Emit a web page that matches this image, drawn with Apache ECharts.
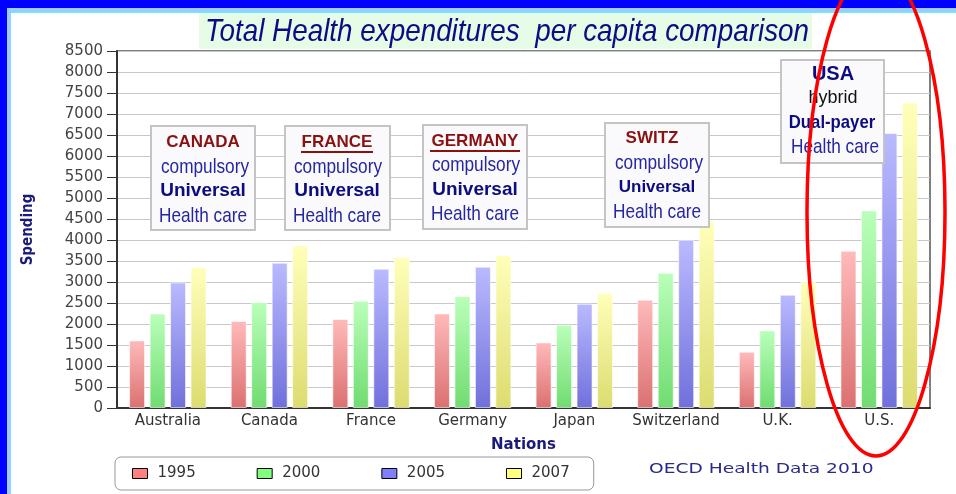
<!DOCTYPE html>
<html><head><meta charset="utf-8">
<script src="https://cdn.jsdelivr.net/npm/echarts@6/dist/echarts.min.js"></script>
<style>html,body{margin:0;padding:0;background:#fff}#c{width:956px;height:494px}</style>
</head><body><div id="c"></div>
<script>
const categories = ['Australia','Canada','France','Germany','Japan','Switzerland','U.K.','U.S.'];
const years = ['1995','2000','2005','2007'];
const v1995 = [1610,2071,2119,2252,1562,2579,1340,3745];
const v2000 = [2252,2524,2555,2667,1983,3221,1848,4705];
const v2005 = [2990,3460,3317,3364,2483,4007,2698,6548];
const v2007 = [3357,3871,3602,3633,2738,4450,3000,7276];
const seriesValues = [v1995, v2000, v2005, v2007];

const legendColors = ['#ff8080','#80ff80','#8080ff','#ffff80'];
const gradTop = ['#ffbaba','#baffba','#babaff','#ffffba'];
const gradBot = ['#dc7070','#70dc70','#7070dc','#dcdc70'];

const AR = "'Liberation Sans', Arial, sans-serif";
const DV = "'DejaVu Sans', Verdana, sans-serif";
const DVC = "'DejaVu Sans Condensed', 'DejaVu Sans', sans-serif";

function txt(text, x, y, size, fill, weight, sx) {
  return { type: 'text', x: x, y: y, z: 60, scaleX: sx || 1,
    style: { text: text, fill: fill, textAlign: 'center', textVerticalAlign: 'middle',
      font: (weight || 'normal') + ' ' + size + 'px ' + AR } };
}
function box(x, y, w, h) {
  return { type: 'rect', z: 55, shape: { x: x, y: y, width: w, height: h },
    style: { fill: '#fafafc', stroke: '#c4c4c4', lineWidth: 2 } };
}
function uline(x1, x2, y) {
  return { type: 'line', z: 60, shape: { x1: x1, y1: y, x2: x2, y2: y },
    style: { stroke: '#8b1010', lineWidth: 2 } };
}
const RED = '#8b1010', BLU = '#2626a0', NAVY = '#0c0c80';
const NS = 0.82;

const graphics = [
  // frame
  { type: 'rect', z: 1, shape: { x: 0, y: 0, width: 956, height: 8 }, style: { fill: '#0000ff' } },
  { type: 'rect', z: 1, shape: { x: 0, y: 0, width: 7, height: 494 }, style: { fill: '#0000ff' } },
  { type: 'rect', z: 1, shape: { x: 7, y: 8, width: 949, height: 4 }, style: { fill: '#99ccff' } },
  { type: 'rect', z: 1, shape: { x: 7, y: 8, width: 4, height: 486 }, style: { fill: '#99ccff' } },
  { type: 'rect', z: 1, shape: { x: 11, y: 12, width: 945, height: 1 }, style: { fill: '#66eeff' } },
  // title
  { type: 'rect', z: 2, shape: { x: 199, y: 13, width: 613, height: 36 }, style: { fill: '#e6fce6' } },
  { type: 'text', z: 3, x: 205, y: 32, scaleX: 0.87, style: { text: 'Total Health expenditures  per capita comparison',
      fill: '#0c0c84', textAlign: 'left', textVerticalAlign: 'middle', font: 'italic 32px ' + AR } },
  // CANADA
  box(151, 126, 104, 104),
  txt('CANADA', 203, 142, 17, RED, 'bold'),
  txt('compulsory', 205, 167, 21, BLU, 'normal', NS),
  txt('Universal', 203, 191, 19, NAVY, 'bold'),
  txt('Health care', 203, 216, 21, BLU, 'normal', NS),
  // FRANCE
  box(285, 126, 105, 104),
  txt('FRANCE', 337, 142, 17, RED, 'bold'),
  uline(301, 373, 152),
  txt('compulsory', 338, 167, 21, BLU, 'normal', NS),
  txt('Universal', 337, 191, 19, NAVY, 'bold'),
  txt('Health care', 337, 216, 21, BLU, 'normal', NS),
  // GERMANY
  box(423, 125, 104, 104),
  txt('GERMANY', 475, 141, 17, RED, 'bold'),
  uline(430, 520, 151),
  txt('compulsory', 476, 165, 21, BLU, 'normal', NS),
  txt('Universal', 475, 190, 19, NAVY, 'bold'),
  txt('Health care', 475, 214, 21, BLU, 'normal', NS),
  // SWITZ
  box(605, 123, 104, 104),
  txt('SWITZ', 652, 138, 17, RED, 'bold'),
  txt('compulsory', 659, 163, 21, BLU, 'normal', NS),
  txt('Universal', 657, 187, 17, NAVY, 'bold'),
  txt('Health care', 657, 212, 21, BLU, 'normal', NS),
  // USA
  box(781, 60, 103, 103),
  txt('USA', 833, 74, 20, NAVY, 'bold'),
  txt('hybrid', 833, 98, 18, '#111111', 'normal'),
  txt('Dual-payer', 832, 123, 19, NAVY, 'bold', 0.88),
  txt('Health care', 835, 147, 21, BLU, 'normal', NS),
  // source
  { type: 'text', z: 10, x: 649, y: 469, scaleX: 1.33, style: { text: 'OECD Health Data 2010', fill: '#2a2a8a',
      textAlign: 'left', textVerticalAlign: 'middle', font: '14px ' + DV } },
  // red ellipse
  { type: 'ellipse', z: 200, shape: { cx: 876, cy: 212, rx: 69, ry: 244 },
    style: { fill: null, stroke: '#ff0000', lineWidth: 3.5 } }
];

const series = years.map((y, i) => ({
  name: y, type: 'bar', barWidth: 16, barGap: '28%',
  data: seriesValues[i],
  itemStyle: {
    color: { type: 'linear', x: 0, y: 0, x2: 0, y2: 1,
      colorStops: [{ offset: 0, color: gradTop[i] }, { offset: 1, color: gradBot[i] }] },
    borderColor: 'rgba(255,255,255,0.6)', borderWidth: 1
  },
  emphasis: { disabled: true }
}));

const chart = echarts.init(document.getElementById('c'), null, { renderer: 'canvas' });
chart.setOption({
  animation: false,
  backgroundColor: '#ffffff',
  grid: { left: 117, top: 51, right: 26, bottom: 86, show: true, borderColor: '#555', borderWidth: 1.5, backgroundColor: 'transparent' },
  legend: {
    left: 115, top: 457, orient: 'horizontal',
    data: years.map((y, i) => ({ name: y, icon: 'rect',
      itemStyle: { color: legendColors[i], borderColor: '#000', borderWidth: 1 } })),
    itemWidth: 15, itemHeight: 10, itemGap: 61,
    textStyle: { fontFamily: DV, fontSize: 15, color: '#333', padding: [0, 0, 0, 5] },
    borderColor: '#999', borderWidth: 1, borderRadius: 6, padding: [9, 24, 9, 17],
    selectedMode: false
  },
  xAxis: {
    type: 'category', data: categories,
    name: 'Nations', nameLocation: 'middle', nameGap: 30,
    nameTextStyle: { fontFamily: DV, fontWeight: 'bold', fontSize: 15, color: '#1a1a7a' },
    axisLine: { lineStyle: { color: '#333', width: 2 } },
    axisTick: { alignWithLabel: true, length: 5, lineStyle: { color: '#333' } },
    axisLabel: { fontFamily: DV, fontSize: 15, color: '#333', margin: 6, interval: 0 }
  },
  yAxis: {
    type: 'value', min: 0, max: 8500, interval: 500,
    name: 'Spending', nameLocation: 'middle', nameGap: 81, nameRotate: 90,
    nameTextStyle: { fontFamily: DVC, fontWeight: 'bold', fontSize: 15, color: '#1a1a7a' },
    axisLine: { show: true, lineStyle: { color: '#333', width: 2 } },
    axisTick: { show: true, length: 10, lineStyle: { color: '#333' } },
    axisLabel: { fontFamily: DV, fontSize: 15, color: '#444', margin: 14, formatter: v => String(v) },
    splitLine: { lineStyle: { color: '#c8c8c8', width: 1 } }
  },
  series: series,
  graphic: { elements: graphics }
});
</script>
</body></html>
